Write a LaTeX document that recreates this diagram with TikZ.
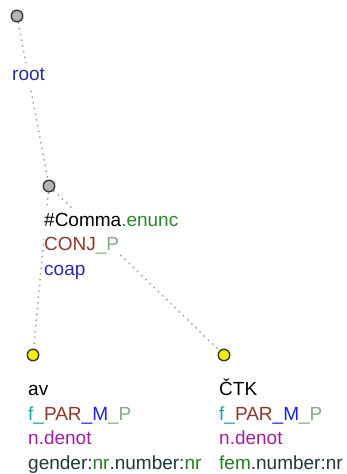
\documentclass[tikz,border=0pt]{standalone}
\usepackage{fontspec}
\setmainfont{Liberation Sans}
\usetikzlibrary{positioning,backgrounds}
\definecolor{functor}{HTML}{2A2AA8}
\definecolor{nodetype}{HTML}{2A8A2A}
\definecolor{sempos}{HTML}{8B3A2A}
\definecolor{faded}{HTML}{88A888}
\definecolor{teal}{HTML}{20A0A0}
\definecolor{member}{HTML}{2020E0}
\definecolor{denot}{HTML}{A020A0}
\definecolor{gram}{HTML}{203838}
\definecolor{gramval}{HTML}{208020}
\definecolor{edgegray}{HTML}{999999}
\definecolor{dotborder}{HTML}{383838}
\definecolor{innergray}{HTML}{B4B4B4}
\definecolor{leafyellow}{HTML}{F0F000}
% one label line on a tight white background
\newcommand\labline[1]{{\setlength\fboxsep{0pt}\colorbox{white}{\strut#1}}}

\begin{document}
\begin{tikzpicture}[
      x=1pt, y=-1pt,
      font=\fontsize{19}{24.5}\selectfont,
      edge/.style={draw=edgegray, line width=1.4pt, dash pattern=on 1.4pt off 4.4pt},
      tnode/.style={circle, draw=dotborder, line width=1.4pt, fill=innergray,
                    minimum size=11.5pt, inner sep=0pt},
      leaf/.style={tnode, fill=leafyellow},
      lab/.style={anchor=base west, align=left, inner sep=0pt}
    ]
    \useasboundingbox (0,0) rectangle (346,474);
    \node[tnode] (root)  at (17,16)  {};
    \node[tnode] (comma) at (49,186) {};
    \node[leaf]  (av)    at (33,355) {};
    \node[leaf]  (ctk)   at (224,355) {};
    % dotted edges behind the labels
    \begin{scope}[on background layer]
      \draw[edge] (root) -- (comma);
      \draw[edge] (comma) -- (av);
      \draw[edge] (comma) -- (ctk);
    \end{scope}
    % labels (anchored at the baseline of their last line)
    \node[lab] (rootlab)  at (12,80)  {\labline{\textcolor{functor}{root}}};
    \node[lab] (commalab) at (44,275) {\labline{\#Comma\textcolor{nodetype}{.enunc}}\\
      \labline{\textcolor{sempos}{CONJ}\textcolor{faded}{\_P}}\\
      \labline{\textcolor{functor}{coap}}};
    \node[lab] (avlab)  at (28,469) {\labline{av}\\
      \labline{\textcolor{teal}{f\_}\textcolor{sempos}{PAR}\textcolor{member}{\_M}\textcolor{faded}{\_P}}\\
      \labline{\textcolor{denot}{n.denot}}\\
      \labline{\textcolor{gram}{gender:}\textcolor{gramval}{nr}\textcolor{gram}{.number:}\textcolor{gramval}{nr}}};
    \node[lab] (ctklab) at (219,469) {\labline{ČTK}\\
      \labline{\textcolor{teal}{f\_}\textcolor{sempos}{PAR}\textcolor{member}{\_M}\textcolor{faded}{\_P}}\\
      \labline{\textcolor{denot}{n.denot}}\\
      \labline{\textcolor{gramval}{fem}\textcolor{gram}{.number:nr}}};
  \end{tikzpicture}
\end{document}
